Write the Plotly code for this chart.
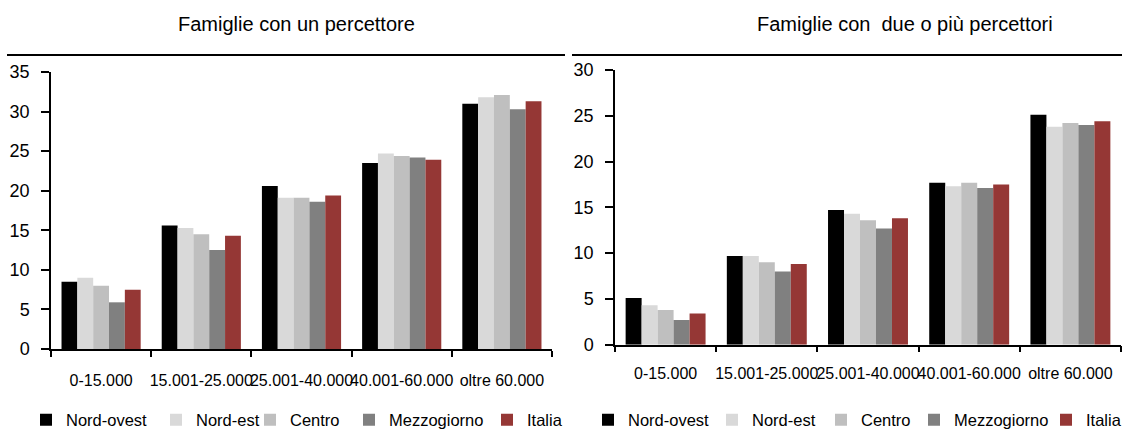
import plotly.graph_objects as go

# Income brackets (euro)
categories = ["0-15.000", "15.001-25.000", "25.001-40.000", "40.001-60.000", "oltre 60.000"]
areas = ["Nord-ovest", "Nord-est", "Centro", "Mezzogiorno", "Italia"]
colors = ["#000000", "#d9d9d9", "#bfbfbf", "#808080", "#953735"]

# Families with one income earner (%)
single_nord_ovest = [8.5, 15.6, 20.6, 23.5, 31.0]
single_nord_est = [9.0, 15.3, 19.1, 24.7, 31.8]
single_centro = [8.0, 14.5, 19.1, 24.4, 32.1]
single_mezzogiorno = [5.9, 12.5, 18.6, 24.2, 30.3]
single_italia = [7.5, 14.3, 19.4, 23.9, 31.3]

# Families with two or more income earners (%)
multi_nord_ovest = [5.1, 9.7, 14.7, 17.7, 25.1]
multi_nord_est = [4.3, 9.7, 14.3, 17.3, 23.8]
multi_centro = [3.8, 9.0, 13.6, 17.7, 24.2]
multi_mezzogiorno = [2.7, 8.0, 12.7, 17.1, 24.0]
multi_italia = [3.4, 8.8, 13.8, 17.5, 24.4]

single = [single_nord_ovest, single_nord_est, single_centro, single_mezzogiorno, single_italia]
multi = [multi_nord_ovest, multi_nord_est, multi_centro, multi_mezzogiorno, multi_italia]

title_left = "Famiglie con un percettore"
title_right = "Famiglie con\u00a0 due o più percettori"

W, H = 1122, 439
FONT = "Liberation Sans, Arial, sans-serif"

# left edge (px) of each legend entry, one row under each panel
legend_left_px = [26, 156, 250, 349, 487]
legend_right_px = [588, 712, 821, 914, 1046]


def px_x(p):
    return p / W


def px_y(p):
    return 1 - p / H


fig = go.Figure()
legends = {}
n = 0
for data, xa, ya, lpos in [(single, "x", "y", legend_left_px),
                           (multi, "x2", "y2", legend_right_px)]:
    for name, color, vals, lx in zip(areas, colors, data, lpos):
        n += 1
        lid = "legend" if n == 1 else f"legend{n}"
        fig.add_trace(go.Bar(x=categories, y=vals, name=name,
                             marker=dict(color=color, line=dict(width=0)),
                             xaxis=xa, yaxis=ya, legend=lid, showlegend=True))
        legends[lid] = dict(orientation="h", x=px_x(lx), xanchor="left", y=px_y(420),
                            yanchor="middle", font=dict(family=FONT, size=16.5, color="black"),
                            itemwidth=30, bgcolor="rgba(0,0,0,0)", visible=True)

xcommon = dict(type="category", showline=True, linecolor="black", linewidth=1.5,
               ticks="outside", ticklen=6, tickwidth=1.5, tickcolor="black",
               tickson="boundaries", tickangle=0, showgrid=False, zeroline=False,
               tickfont=dict(family=FONT, size=16, color="black"), ticklabelstandoff=16,
               range=[-0.5, 4.5])
ycommon = dict(showline=True, linecolor="black", linewidth=1.5, ticks="outside", ticklen=8,
               tickwidth=1.5, tickcolor="black", showgrid=False, zeroline=False, dtick=5,
               tickfont=dict(family=FONT, size=18, color="black"), ticklabelstandoff=8)
# overlaid axes, used only for the inner half of each y tick
yinner = dict(ticks="inside", ticklen=6, tickwidth=1.5, tickcolor="black", showline=False,
              showticklabels=False, showgrid=False, zeroline=False, dtick=5)

fig.update_layout(
    width=W, height=H,
    showlegend=True,
    margin=dict(l=0, r=0, t=0, b=0, autoexpand=False),
    paper_bgcolor="white", plot_bgcolor="white",
    barmode="group", bargap=0.21, bargroupgap=0,
    font=dict(family=FONT, color="black"),
    xaxis=dict(xcommon, domain=[px_x(51), px_x(552)], anchor="y"),
    yaxis=dict(ycommon, domain=[px_y(349), px_y(72)], range=[0, 35], anchor="x"),
    xaxis2=dict(xcommon, domain=[px_x(615), px_x(1121)], anchor="y2", ticklabelstandoff=13),
    yaxis2=dict(ycommon, domain=[px_y(344.7), px_y(70)], range=[0, 30], anchor="x2"),
    yaxis3=dict(yinner, overlaying="y", anchor="x", range=[0, 35]),
    yaxis4=dict(yinner, overlaying="y2", anchor="x2", range=[0, 30]),
    annotations=[
        dict(text=title_left, x=px_x(296), y=px_y(24), xref="paper", yref="paper",
             xanchor="center", yanchor="middle", showarrow=False,
             font=dict(family=FONT, size=20, color="black")),
        dict(text=title_right, x=px_x(905), y=px_y(24), xref="paper", yref="paper",
             xanchor="center", yanchor="middle", showarrow=False,
             font=dict(family=FONT, size=20, color="black")),
    ],
    shapes=[
        dict(type="line", xref="paper", yref="paper", x0=px_x(7), x1=px_x(565),
             y0=px_y(55), y1=px_y(55), line=dict(color="black", width=2)),
        dict(type="line", xref="paper", yref="paper", x0=px_x(572), x1=px_x(1122),
             y0=px_y(55), y1=px_y(55), line=dict(color="black", width=2)),
    ],
    **legends,
)

fig.write_html("out.html")
